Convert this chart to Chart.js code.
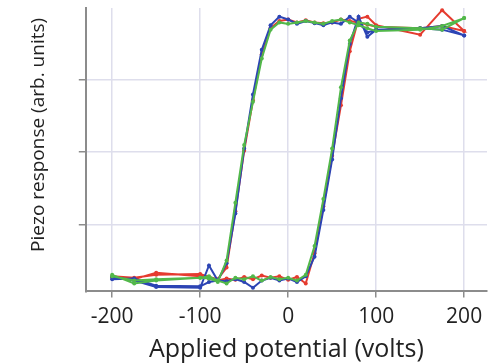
<!DOCTYPE html>
<html>
<head>
    <title>Piezo response hysteresis</title>
    <script src="https://cdn.jsdelivr.net/npm/chart.js"></script>
    <style>
        html, body {
            margin: 0;
            padding: 0;
            background: #fff;
        }
        .chart-box {
            width: 493px;
            height: 364px;
        }
    </style>
</head>
<body>
    <div class="chart-box">
        <canvas id="loop"></canvas>
    </div>

    <script>
        // Voltage steps of the sweep up (low -> high); the sweep down runs the other way
        const sweepUp = [-200, -175, -150, -100, -90, -80, -70, -60, -50, -40, -30, -20, -10, 0,
                         10, 20, 30, 40, 50, 60, 70, 80, 90, 100, 150, 175, 200];
        const sweepDown = sweepUp.slice().reverse();

        // Piezo response, arbitrary units
        const redUp    = [0.26, 0.24, 0.33, 0.28, 0.25, 0.22, 0.25, 0.23, 0.27, 0.24, 0.29, 0.26, 0.28, 0.23,
                          0.27, 0.18, 0.60, 1.25, 1.95, 2.65, 3.40, 3.85, 3.88, 3.76, 3.63, 3.97, 3.68];
        const redDown  = [3.68, 3.75, 3.72, 3.74, 3.77, 3.80, 3.82, 3.84, 3.80, 3.79, 3.80, 3.83, 3.80, 3.84,
                          3.82, 3.72, 3.36, 2.72, 2.02, 1.18, 0.40, 0.24, 0.27, 0.31, 0.30, 0.26, 0.28];
        const blueUp   = [0.24, 0.25, 0.15, 0.14, 0.20, 0.22, 0.21, 0.24, 0.20, 0.12, 0.22, 0.26, 0.22, 0.25,
                          0.20, 0.28, 0.55, 1.20, 1.90, 2.75, 3.50, 3.88, 3.60, 3.70, 3.72, 3.75, 3.62];
        const blueDown = [3.62, 3.70, 3.72, 3.70, 3.66, 3.80, 3.88, 3.78, 3.80, 3.76, 3.79, 3.82, 3.78, 3.84,
                          3.88, 3.76, 3.42, 2.80, 2.05, 1.15, 0.46, 0.22, 0.43, 0.12, 0.13, 0.22, 0.27];
        const greenUp  = [0.30, 0.18, 0.22, 0.26, 0.28, 0.22, 0.18, 0.26, 0.24, 0.28, 0.22, 0.27, 0.24, 0.26,
                          0.22, 0.30, 0.70, 1.35, 2.05, 2.90, 3.55, 3.80, 3.78, 3.74, 3.72, 3.70, 3.86];
        const greenDown = [3.86, 3.75, 3.70, 3.68, 3.72, 3.76, 3.80, 3.84, 3.82, 3.78, 3.80, 3.82, 3.80, 3.78,
                           3.80, 3.70, 3.30, 2.70, 2.10, 1.30, 0.50, 0.20, 0.25, 0.26, 0.24, 0.22, 0.28];

        const xTicks = [-200, -100, 0, 100, 200];
        const yTicks = [1, 2, 3];

        // one closed loop per run: sweep up, then sweep back down
        function loop(up, down) {
            const pts = sweepUp.map((v, i) => ({ x: v, y: up[i] }));
            return pts.concat(sweepDown.map((v, i) => ({ x: v, y: down[i] })));
        }

        function series(data, color) {
            return {
                data: data,
                borderColor: color,
                backgroundColor: color,
                borderWidth: 2,
                pointRadius: 2,
                pointBorderWidth: 0,
                tension: 0,
                fill: false
            };
        }

        const fontName = "'Open Sans', sans-serif";

        // first dataset is painted on top, so green goes first
        new Chart(document.getElementById('loop'), {
            type: 'line',
            data: {
                datasets: [
                    series(loop(greenUp, greenDown), '#52b84a'),
                    series(loop(blueUp, blueDown), '#2c44b4'),
                    series(loop(redUp, redDown), '#e53b2f')
                ]
            },
            options: {
                responsive: true,
                maintainAspectRatio: false,
                animation: false,
                layout: {
                    padding: { left: 20, right: 6, top: 8, bottom: 0 }
                },
                plugins: {
                    legend: { display: false },
                    tooltip: { enabled: false }
                },
                scales: {
                    x: {
                        type: 'linear',
                        min: -230,
                        max: 226,
                        afterBuildTicks: axis => {
                            axis.ticks = xTicks.map(v => ({ value: v }));
                        },
                        border: { color: '#8c8c8c', width: 2 },
                        grid: {
                            color: '#dedeec',
                            lineWidth: 1.5,
                            tickColor: '#8c8c8c',
                            tickLength: 6
                        },
                        ticks: {
                            color: '#222',
                            padding: 8,
                            font: { family: fontName, size: 21, lineHeight: 1.1 }
                        },
                        title: {
                            display: true,
                            text: 'Applied potential (volts)',
                            color: '#222',
                            padding: { top: 0, bottom: 0 },
                            font: { family: fontName, size: 25, lineHeight: 1.1 }
                        }
                    },
                    y: {
                        min: 0.07,
                        max: 4,
                        afterBuildTicks: axis => {
                            axis.ticks = yTicks.map(v => ({ value: v }));
                        },
                        border: { color: '#8c8c8c', width: 2 },
                        grid: {
                            color: '#dedeec',
                            lineWidth: 1.5,
                            tickColor: '#8c8c8c',
                            tickLength: 7
                        },
                        ticks: { display: false },
                        title: {
                            display: true,
                            text: '      Piezo response (arb. units)',
                            color: '#222',
                            padding: { top: 7, bottom: 29 },
                            font: { family: fontName, size: 19 }
                        }
                    }
                }
            }
        });
    </script>
</body>
</html>
